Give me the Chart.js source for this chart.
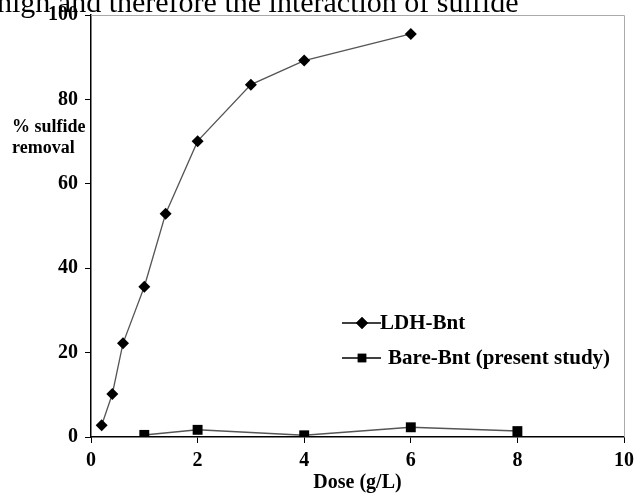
<!DOCTYPE html>
<html>
<head>
<meta charset="utf-8">
<script src="https://cdn.jsdelivr.net/npm/chart.js@4.4.0/dist/chart.umd.min.js"></script>
<style>
html,body{margin:0;padding:0;background:#fff;}
#wrap{width:635px;height:495px;position:relative;}
</style>
</head>
<body>
<div id="wrap"><canvas id="c" width="635" height="495"></canvas></div>
<script>
const ldhDose = [0.2, 0.4, 0.6, 1.0, 1.4, 2.0, 3.0, 4.0, 6.0];
const ldhRemoval = [2.8, 10.2, 22.2, 35.6, 52.9, 70.1, 83.5, 89.2, 95.5];
const bareDose = [1, 2, 4, 6, 8];
const bareRemoval = [0.5, 1.7, 0.4, 2.3, 1.4];
const xTicks = [0, 2, 4, 6, 8, 10];
const yTicks = [0, 20, 40, 60, 80, 100];
const seriesNames = ["LDH-Bnt", "Bare-Bnt (present study)"];
const xTitle = "Dose (g/L)";
const yTitleLines = ["% sulfide", "removal"];
const topText = "high and therefore the interaction of sulfide";

const serif = "'Liberation Serif','Times New Roman',serif";

const extras = {
  id: 'extras',
  afterDraw(chart) {
    const ctx = chart.ctx;
    const a = chart.chartArea;
    ctx.save();
    // top/right frame
    ctx.strokeStyle = '#aaaaaa';
    ctx.lineWidth = 1;
    ctx.beginPath();
    ctx.moveTo(a.left, a.top + 0.5);
    ctx.lineTo(a.right + 0.5, a.top + 0.5);
    ctx.lineTo(a.right + 0.5, a.bottom);
    ctx.stroke();
    // top cropped text
    ctx.fillStyle = '#000';
    ctx.font = '30px ' + serif;
    ctx.textBaseline = 'alphabetic';
    ctx.textAlign = 'left';
    ctx.fillText(topText, -3, 12);
    // y title
    ctx.font = 'bold 18px ' + serif;
    ctx.fillText(yTitleLines[0], 12, 132);
    ctx.fillText(yTitleLines[1], 12, 153);
    // legend
    const items = [
      {y: 323, style: 'rectRot', r: 6, textX: 380},
      {y: 358, style: 'rect', r: 6, textX: 388}
    ];
    ctx.font = 'bold 21px ' + serif;
    ctx.textBaseline = 'middle';
    items.forEach((it, i) => {
      ctx.fillStyle = '#000';
      ctx.fillText(seriesNames[i], it.textX, it.y + 1);
      ctx.strokeStyle = '#000';
      ctx.lineWidth = 1.5;
      ctx.beginPath();
      ctx.moveTo(342, it.y);
      ctx.lineTo(381, it.y);
      ctx.stroke();
      Chart.helpers.drawPoint(ctx, {pointStyle: it.style, radius: it.r, borderWidth: 0}, 362, it.y);
      ctx.fill();
    });
    ctx.restore();
  }
};

new Chart(document.getElementById('c'), {
  type: 'scatter',
  data: {
    datasets: [
      {
        label: seriesNames[0],
        data: ldhDose.map((x, i) => ({x: x, y: ldhRemoval[i]})),
        showLine: true,
        borderColor: '#555555',
        borderWidth: 1.3,
        backgroundColor: '#000',
        pointBackgroundColor: '#000',
        pointBorderColor: '#000',
        pointStyle: 'rectRot',
        pointRadius: 6,
        pointBorderWidth: 0
      },
      {
        label: seriesNames[1],
        data: bareDose.map((x, i) => ({x: x, y: bareRemoval[i]})),
        showLine: true,
        borderColor: '#555555',
        borderWidth: 1.5,
        backgroundColor: '#000',
        pointBackgroundColor: '#000',
        pointBorderColor: '#000',
        pointStyle: 'rect',
        pointRadius: 7,
        pointBorderWidth: 0
      }
    ]
  },
  options: {
    responsive: false,
    animation: false,
    devicePixelRatio: 1,
    layout: {padding: {top: 15, right: 11, left: 0, bottom: 0}},
    plugins: {legend: {display: false}, tooltip: {enabled: false}},
    scales: {
      x: {
        type: 'linear',
        min: 0, max: 10,
        afterBuildTicks(s) { s.ticks = xTicks.map(v => ({value: v})); },
        afterFit(s) { s.height = 58; s.paddingLeft = 0; s.paddingRight = 0; },
        grid: {drawOnChartArea: false, drawTicks: true, tickLength: 6, color: '#000', tickColor: '#000'},
        border: {color: '#000', width: 1.5},
        ticks: {color: '#000', font: {family: serif, size: 20, weight: 'bold'}, padding: 6, maxRotation: 0},
        title: {display: true, text: xTitle, color: '#000', font: {family: serif, size: 20, weight: 'bold'}, padding: {top: 0, bottom: 0}}
      },
      y: {
        type: 'linear',
        min: 0, max: 100,
        afterBuildTicks(s) { s.ticks = yTicks.map(v => ({value: v})); },
        afterFit(s) { s.width = 91; s.paddingTop = 0; s.paddingBottom = 0; },
        grid: {drawOnChartArea: false, drawTicks: true, tickLength: 6, color: '#000', tickColor: '#000'},
        border: {color: '#000', width: 1.5},
        ticks: {color: '#000', font: {family: serif, size: 20, weight: 'bold'}, padding: 7}
      }
    }
  },
  plugins: [extras]
});
</script>
</body>
</html>
